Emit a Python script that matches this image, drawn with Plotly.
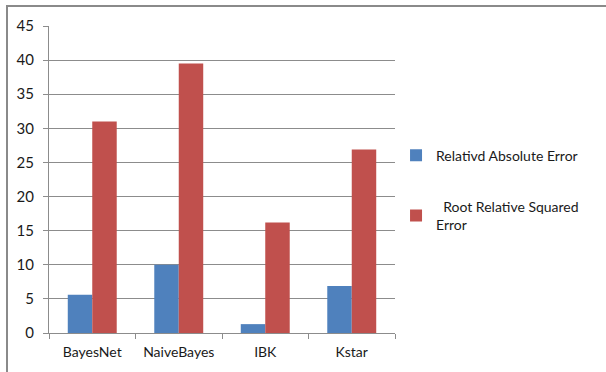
import plotly.graph_objects as go

categories = ["BayesNet", "NaiveBayes", "IBK", "Kstar"]
relative_absolute_error = [5.6, 10.0, 1.3, 6.9]
root_relative_squared_error = [31.0, 39.5, 16.2, 26.9]
y_ticks = [0, 5, 10, 15, 20, 25, 30, 35, 40, 45]

FONT = "Lato, Liberation Sans, sans-serif"
GRID = "#8c8c8c"

fig = go.Figure()
fig.add_trace(go.Bar(
    x=categories, y=relative_absolute_error,
    name="Relativd Absolute Error",
    marker=dict(color="#4f81bd", line=dict(width=0)),
    legendgroup="a",
))
fig.add_trace(go.Bar(
    x=categories, y=root_relative_squared_error,
    name="\u00a0\u00a0Root Relative Squared<br>Error",
    marker=dict(color="#c0504d", line=dict(width=0)),
    legendgroup="b",
))

fig.update_layout(
    width=606, height=372,
    margin=dict(l=49, r=211, t=26, b=39, autoexpand=False),
    paper_bgcolor="white", plot_bgcolor="white",
    barmode="group", bargap=0.434, bargroupgap=0,
    font=dict(family=FONT, size=14, color="#1a1a1a"),
    legend=dict(
        x=1.003, y=0.63, xanchor="left", yanchor="top",
        font=dict(family=FONT, size=14, color="#1a1a1a"),
        tracegroupgap=30, itemwidth=30,
        bgcolor="rgba(0,0,0,0)",
    ),
    showlegend=True,
    # outer frame around the chart
    shapes=[dict(
        type="rect", xref="paper", yref="paper",
        x0=-42 / 346, x1=2.0, y0=-0.4, y1=1 + 20 / 307,
        line=dict(color="#8a8a8a", width=2), layer="below",
    )],
)

fig.update_xaxes(
    type="category", tickson="boundaries", tickangle=0, automargin=False,
    ticks="outside", ticklen=5, tickcolor=GRID, ticklabelstandoff=6,
    showline=True, linecolor=GRID, linewidth=1,
    showgrid=False, tickfont=dict(size=14),
)
fig.update_yaxes(
    range=[0, 45], tickvals=y_ticks, automargin=False,
    ticks="outside", ticklen=5, tickcolor=GRID, ticklabelstandoff=6,
    showline=True, linecolor=GRID, linewidth=1,
    showgrid=True, gridcolor=GRID, gridwidth=1,
    zeroline=False, tickfont=dict(size=15),
)

fig.write_html("out.html")
